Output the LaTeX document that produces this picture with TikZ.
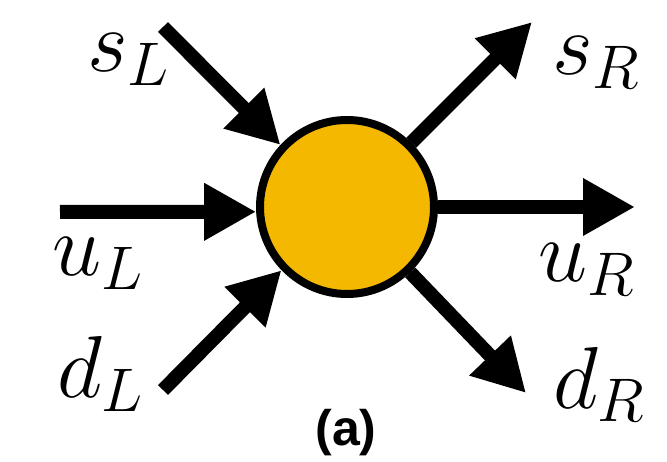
\RequirePackage{fix-cm}
\documentclass[tikz,border=0pt]{standalone}
\usepackage{fontspec}
\setsansfont{Liberation Sans}
\usetikzlibrary{arrows.meta}
\definecolor{nodeorange}{RGB}{245,184,0}
\begin{document}
\begin{tikzpicture}[x=1pt,y=-1pt,
  flow/.style={line width=14pt,-{Triangle[length=52pt,width=54pt]}},
  lbl/.style={inner sep=0pt,anchor=base west,font=\fontsize{88}{100}\selectfont},
  hub/.style={circle,draw,line width=8pt,fill=nodeorange,minimum size=174pt,inner sep=0pt}
  ]
\useasboundingbox (0,0) rectangle (667,462);
\node[hub] (c) at (347,207) {};
\coordinate (sLt) at (163,27);
\coordinate (uLt) at (60,212);
\coordinate (dLt) at (163,390);
\coordinate (sRt) at (532,22);
\coordinate (uRt) at (635,207);
\coordinate (dRt) at (526,393);
\draw[flow] (sLt) -- (c.137);
\draw[flow] (uLt) -- (c.183);
\draw[flow] (dLt) -- (c.224);
\draw[flow] (c.45) -- (sRt);
\draw[flow] (c.0) -- (uRt);
\draw[flow] (c.-46) -- (dRt);
\node[lbl] (sL) at (87,72) {$s_L$};
\node[lbl] (uL) at (52,276) {$u_L$};
\node[lbl] (dL) at (57,398) {$d_L$};
\node[lbl] (sR) at (552,75) {$s_R$};
\node[lbl] (uR) at (538,282) {$u_R$};
\node[lbl] (dR) at (553,408) {$d_R$};
\node[font=\sffamily\bfseries\fontsize{50}{56}\selectfont,anchor=base,inner sep=0pt] (cap) at (346,445) {(a)};
\end{tikzpicture}
\end{document}
